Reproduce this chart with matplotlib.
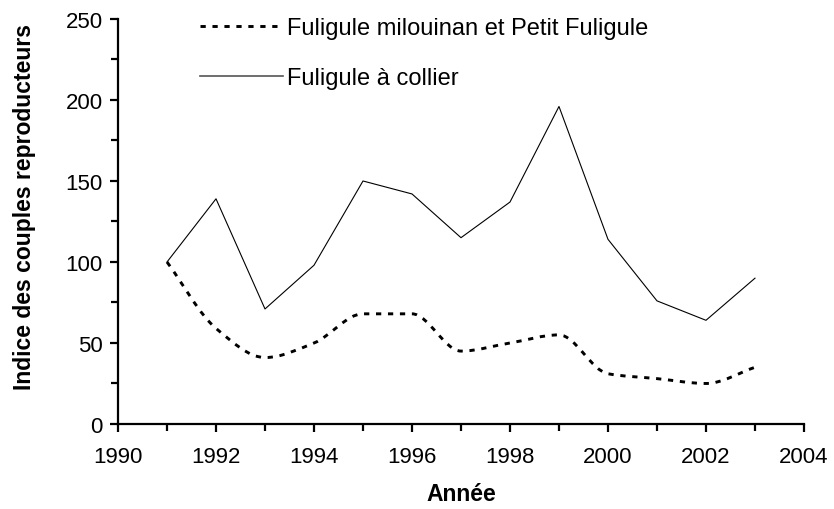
import numpy as np
import matplotlib
matplotlib.use("Agg")
import matplotlib.pyplot as plt
from matplotlib.path import Path
from matplotlib.patches import PathPatch
from matplotlib.lines import Line2D
from matplotlib.ticker import MultipleLocator

plt.rcParams['font.family'] = ['Liberation Sans', 'DejaVu Sans']

years = [1991, 1992, 1993, 1994, 1995, 1996, 1997, 1998, 1999, 2000, 2001, 2002, 2003]
milouinan = [100, 59, 41, 50, 68, 68, 45, 50, 55, 31, 28, 25, 35]
collier = [100, 139, 71, 98, 150, 142, 115, 137, 196, 114, 76, 64, 90]
label_milouinan = "Fuligule milouinan et Petit Fuligule"
label_collier = "Fuligule à collier"

fig = plt.figure(figsize=(8.34, 5.10), dpi=100)
ax = fig.add_axes([0.1415, 0.1667, 0.8225, 0.7941])

# smoothed dotted curve: monotone (Fritsch-Carlson) cubic bezier through the data points
x = np.array(years, float)
y = np.array(milouinan, float)
n = len(x)
h = np.diff(x)
d = np.diff(y) / h
m = np.zeros(n)
m[0], m[-1] = d[0], d[-1]
for i in range(1, n - 1):
    if d[i - 1] * d[i] <= 0:
        m[i] = 0.0
    else:
        w1 = 2 * h[i] + h[i - 1]
        w2 = h[i] + 2 * h[i - 1]
        m[i] = (w1 + w2) / (w1 / d[i - 1] + w2 / d[i])
verts = [(x[0], y[0])]
codes = [Path.MOVETO]
for i in range(n - 1):
    c1 = (x[i] + h[i] / 3, y[i] + m[i] * h[i] / 3)
    c2 = (x[i + 1] - h[i] / 3, y[i + 1] - m[i + 1] * h[i] / 3)
    verts += [c1, c2, (x[i + 1], y[i + 1])]
    codes += [Path.CURVE4] * 3
dots = (0, (1.8, 2.3))
patch = PathPatch(Path(verts, codes), fill=False, edgecolor='black', lw=2.1,
                  linestyle=dots, capstyle='butt')
ax.add_patch(patch)

ax.plot(years, collier, color='black', lw=0.8)

ax.set_xlim(1990, 2004)
ax.set_ylim(0, 250)
ax.xaxis.set_major_locator(MultipleLocator(2))
ax.xaxis.set_minor_locator(MultipleLocator(1))
ax.yaxis.set_major_locator(MultipleLocator(50))
ax.yaxis.set_minor_locator(MultipleLocator(25))

for s in ['top', 'right']:
    ax.spines[s].set_visible(False)
for s in ['left', 'bottom']:
    ax.spines[s].set_linewidth(1.6)

ax.tick_params(which='both', direction='out', width=1.6, labelsize=16)
ax.tick_params(which='major', length=6)
ax.tick_params(which='minor', length=5)
ax.tick_params(axis='x', which='both', pad=10)
ax.tick_params(axis='y', which='both', pad=5)

ax.set_xlabel("Année", fontsize=16.5, fontweight='bold', labelpad=11)
ax.set_ylabel("Indice des couples reproducteurs", fontsize=16.5, fontweight='bold')
ax.yaxis.set_label_coords(-0.12, 0.538)

handles = [Line2D([0], [0], color='black', lw=2.1, linestyle=dots),
           Line2D([0], [0], color='#555555', lw=1.2)]
fig.legend(handles, [label_milouinan, label_collier], loc='upper left',
           bbox_to_anchor=(0.24, 0.965), frameon=False, fontsize=17,
           handlelength=3.5, handletextpad=0.17, labelspacing=1.2,
           borderpad=0, borderaxespad=0)

fig.savefig("out.png", dpi=100)
